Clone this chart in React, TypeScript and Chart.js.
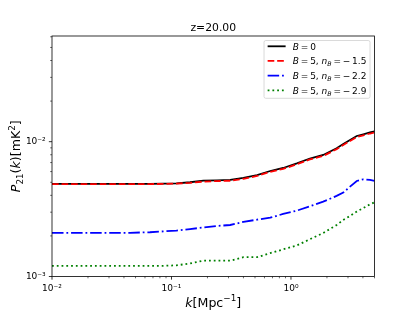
import React, { useEffect, useRef } from 'react';
import { Chart, registerables } from 'chart.js';

Chart.register(...registerables);

// ---- data ----
const kValues = [0.01, 0.017, 0.03, 0.045, 0.066, 0.085, 0.11, 0.143, 0.185, 0.24, 0.31, 0.4, 0.52, 0.67, 0.86, 1.12, 1.44, 1.86, 2.41, 2.74, 3.12, 3.55, 4.03, 4.58, 5.0];
const pB0 = [0.00486, 0.00486, 0.00486, 0.00486, 0.00486, 0.00488, 0.00491, 0.005, 0.00514, 0.00517, 0.0052, 0.00538, 0.00566, 0.00606, 0.00638, 0.00691, 0.0075, 0.00797, 0.00894, 0.00962, 0.0103, 0.01102, 0.01135, 0.0117, 0.0119];
const pB5n15 = [0.00485, 0.00485, 0.00485, 0.00485, 0.00485, 0.00486, 0.00489, 0.00495, 0.00506, 0.0051, 0.00513, 0.0053, 0.00557, 0.00597, 0.00628, 0.0068, 0.00738, 0.00784, 0.0088, 0.00946, 0.01012, 0.01083, 0.01115, 0.0115, 0.0117];
const pB5n22 = [0.00211, 0.00211, 0.00211, 0.00211, 0.00213, 0.00216, 0.00219, 0.00225, 0.00231, 0.00237, 0.00241, 0.00254, 0.00264, 0.00273, 0.00291, 0.00308, 0.00332, 0.00359, 0.00396, 0.00419, 0.00464, 0.00511, 0.00526, 0.0052, 0.00511];
const pB5n29 = [0.0012, 0.0012, 0.0012, 0.0012, 0.0012, 0.0012, 0.00121, 0.00125, 0.00131, 0.00131, 0.00131, 0.00139, 0.00139, 0.00149, 0.00159, 0.0017, 0.00189, 0.0021, 0.00241, 0.00263, 0.00281, 0.00303, 0.00322, 0.00343, 0.00355];

const xTickValues = [0.01, 0.02, 0.03, 0.04, 0.05, 0.06, 0.07, 0.08, 0.09, 0.1, 0.2, 0.3, 0.4, 0.5, 0.6, 0.7, 0.8, 0.9, 1, 2, 3, 4, 5];
const yTickValues = [0.001, 0.002, 0.003, 0.004, 0.005, 0.006, 0.007, 0.008, 0.009, 0.01, 0.02, 0.03, 0.04, 0.05, 0.06];

const titleText = 'z=20.00';

type Seg = { t: string; it?: boolean; sub?: boolean; sup?: boolean };

const TS = '\u2009';
const legendLabels: Seg[][] = [
  [{ t: 'B', it: true }, { t: `${TS}=${TS}0` }],
  [{ t: 'B', it: true }, { t: `${TS}=${TS}5, ` }, { t: 'n', it: true }, { t: 'B', it: true, sub: true }, { t: `${TS}=${TS}\u2212${TS}1.5` }],
  [{ t: 'B', it: true }, { t: `${TS}=${TS}5, ` }, { t: 'n', it: true }, { t: 'B', it: true, sub: true }, { t: `${TS}=${TS}\u2212${TS}2.2` }],
  [{ t: 'B', it: true }, { t: `${TS}=${TS}5, ` }, { t: 'n', it: true }, { t: 'B', it: true, sub: true }, { t: `${TS}=${TS}\u2212${TS}2.9` }],
];
const xLabel: Seg[] = [{ t: 'k', it: true }, { t: '[Mpc' }, { t: '\u22121', sup: true }, { t: ']' }];
const yLabel: Seg[] = [{ t: 'P', it: true }, { t: '21', sub: true }, { t: '(' }, { t: 'k', it: true }, { t: ')[mK' }, { t: '2', sup: true }, { t: ']' }];

const FONT = "'DejaVu Sans', sans-serif";

const isPow10 = (v: number) => Math.abs(Math.log10(v) - Math.round(Math.log10(v))) < 1e-9;
const SUP: Record<string, string> = { '-': '\u207B', '0': '\u2070', '1': '\u00B9', '2': '\u00B2', '3': '\u00B3', '4': '\u2074', '5': '\u2075' };
const powLabel = (v: number) => {
  if (!isPow10(v)) return '';
  const e = String(Math.round(Math.log10(v)));
  return '10' + e.split('').map((c) => SUP[c]).join('');
};

function segFont(s: Seg, size: number) {
  const sz = s.sub || s.sup ? size * 0.7 : size;
  return `${s.it ? 'italic ' : ''}${sz}px ${FONT}`;
}
function segsWidth(ctx: CanvasRenderingContext2D, segs: Seg[], size: number) {
  let w = 0;
  for (const s of segs) {
    ctx.font = segFont(s, size);
    w += ctx.measureText(s.t).width;
  }
  return w;
}
function drawSegs(ctx: CanvasRenderingContext2D, segs: Seg[], x: number, y: number, size: number) {
  let cx = x;
  ctx.textAlign = 'left';
  ctx.textBaseline = 'alphabetic';
  for (const s of segs) {
    ctx.font = segFont(s, size);
    const dy = s.sub ? size * 0.22 : s.sup ? -size * 0.4 : 0;
    ctx.fillText(s.t, cx, y + dy);
    cx += ctx.measureText(s.t).width;
  }
}

const decorPlugin = {
  id: 'decor',
  afterDraw(chart: any) {
    const ctx: CanvasRenderingContext2D = chart.ctx;
    const { left, right, top, bottom } = chart.chartArea;
    const xs = chart.scales.x;
    const ys = chart.scales.y;
    ctx.save();
    ctx.strokeStyle = '#000';
    ctx.fillStyle = '#000';
    // ticks
    for (const v of xTickValues) {
      const px = xs.getPixelForValue(v);
      const major = isPow10(v);
      ctx.lineWidth = major ? 0.8 : 0.6;
      ctx.beginPath();
      ctx.moveTo(px, bottom);
      ctx.lineTo(px, bottom + (major ? 3.15 : 1.8));
      ctx.stroke();
    }
    for (const v of yTickValues) {
      const py = ys.getPixelForValue(v);
      const major = isPow10(v);
      ctx.lineWidth = major ? 0.8 : 0.6;
      ctx.beginPath();
      ctx.moveTo(left, py);
      ctx.lineTo(left - (major ? 3.15 : 1.8), py);
      ctx.stroke();
    }
    // frame
    ctx.lineWidth = 0.8;
    ctx.strokeRect(left, top, right - left, bottom - top);
    // title
    ctx.font = `10.8px ${FONT}`;
    ctx.textAlign = 'center';
    ctx.textBaseline = 'alphabetic';
    ctx.fillText(titleText, (left + right) / 2, top - 5.4);
    // x label
    const xw = segsWidth(ctx, xLabel, 12.6);
    drawSegs(ctx, xLabel, (left + right) / 2 - xw / 2, 306.5, 12.6);
    // y label
    ctx.save();
    ctx.translate(20, (top + bottom) / 2);
    ctx.rotate(-Math.PI / 2);
    const yw = segsWidth(ctx, yLabel, 12.6);
    drawSegs(ctx, yLabel, -yw / 2, 0, 12.6);
    ctx.restore();
    // legend
    const fs = 9;
    const boxR = right - 4.5;
    const boxT = top + 4.5;
    const rowGap = 14.67;
    let maxW = 0;
    for (const segs of legendLabels) maxW = Math.max(maxW, segsWidth(ctx, segs, fs));
    const boxL = boxR - (3.6 + 18 + 7.2 + maxW + 3.6);
    const boxB = boxT + 57.8;
    ctx.beginPath();
    const r = 1.8;
    ctx.moveTo(boxL + r, boxT);
    ctx.lineTo(boxR - r, boxT);
    ctx.arcTo(boxR, boxT, boxR, boxT + r, r);
    ctx.lineTo(boxR, boxB - r);
    ctx.arcTo(boxR, boxB, boxR - r, boxB, r);
    ctx.lineTo(boxL + r, boxB);
    ctx.arcTo(boxL, boxB, boxL, boxB - r, r);
    ctx.lineTo(boxL, boxT + r);
    ctx.arcTo(boxL, boxT, boxL + r, boxT, r);
    ctx.closePath();
    ctx.fillStyle = 'rgba(255,255,255,0.8)';
    ctx.fill();
    ctx.strokeStyle = 'rgba(204,204,204,0.8)';
    ctx.lineWidth = 0.9;
    ctx.stroke();
    const dsets = chart.data.datasets;
    legendLabels.forEach((segs, i) => {
      const cy = boxT + 5.8 + i * rowGap;
      const ds = dsets[i];
      ctx.save();
      ctx.strokeStyle = ds.borderColor;
      ctx.lineWidth = ds.borderWidth;
      ctx.setLineDash(ds.borderDash || []);
      ctx.lineCap = 'butt';
      ctx.beginPath();
      ctx.moveTo(boxL + 3.6, cy);
      ctx.lineTo(boxL + 3.6 + 18, cy);
      ctx.stroke();
      ctx.restore();
      ctx.fillStyle = '#000';
      drawSegs(ctx, segs, boxL + 3.6 + 18 + 7.2, cy + 3.4, fs);
    });
    ctx.restore();
  },
};

export default function App() {
  const ref = useRef<HTMLCanvasElement | null>(null);
  useEffect(() => {
    if (!ref.current) return;
    const mk = (arr: number[]) => kValues.map((k, i) => ({ x: k, y: arr[i] }));
    const chart = new Chart(ref.current, {
      type: 'line',
      data: {
        datasets: [
          { label: 'B=0', data: mk(pB0), borderColor: '#000000', borderWidth: 1.8, order: 4 },
          { label: 'B=5, nB=-1.5', data: mk(pB5n15), borderColor: '#ff0000', borderWidth: 1.8, borderDash: [6.66, 2.88], order: 3 },
          { label: 'B=5, nB=-2.2', data: mk(pB5n22), borderColor: '#0000ff', borderWidth: 1.8, borderDash: [11.52, 2.88, 1.8, 2.88], order: 2 },
          { label: 'B=5, nB=-2.9', data: mk(pB5n29), borderColor: '#008000', borderWidth: 1.8, borderDash: [1.8, 2.97], order: 1 },
        ] as any,
      },
      options: {
        animation: false,
        responsive: false,
        devicePixelRatio: 1,
        layout: { padding: { top: 36, right: 40.5, left: 0, bottom: 0 } },
        elements: { point: { radius: 0 }, line: { tension: 0, fill: false } },
        plugins: { legend: { display: false }, title: { display: false }, tooltip: { enabled: false } },
        scales: {
          x: {
            type: 'logarithmic',
            min: 0.01,
            max: 5,
            afterBuildTicks: (s: any) => {
              s.ticks = xTickValues.map((v) => ({ value: v }));
            },
            afterFit: (s: any) => {
              s.height = 34.5;
            },
            grid: { display: true, drawOnChartArea: false, drawTicks: true, tickLength: 3.15, color: 'rgba(0,0,0,0)', tickColor: 'rgba(0,0,0,0)' },
            border: { display: false },
            ticks: { autoSkip: false, maxRotation: 0, minRotation: 0, padding: 3.15, color: '#000', font: { family: FONT, size: 9 }, callback: (v: any) => powLabel(Number(v)) },
          },
          y: {
            type: 'logarithmic',
            min: 0.001,
            max: 0.0608,
            afterBuildTicks: (s: any) => {
              s.ticks = yTickValues.map((v) => ({ value: v }));
            },
            afterFit: (s: any) => {
              s.width = 52;
            },
            grid: { display: true, drawOnChartArea: false, drawTicks: true, tickLength: 3.15, color: 'rgba(0,0,0,0)', tickColor: 'rgba(0,0,0,0)' },
            border: { display: false },
            ticks: { autoSkip: false, padding: 3.15, color: '#000', font: { family: FONT, size: 9 }, callback: (v: any) => powLabel(Number(v)) },
          },
        } as any,
      },
      plugins: [decorPlugin],
    });
    return () => chart.destroy();
  }, []);
  return (
    <div style={{ position: 'fixed', left: 0, top: 0, width: 415, height: 311, background: '#fff' }}>
      <canvas ref={ref} width={415} height={311} style={{ display: 'block', width: 415, height: 311 }} />
    </div>
  );
}
